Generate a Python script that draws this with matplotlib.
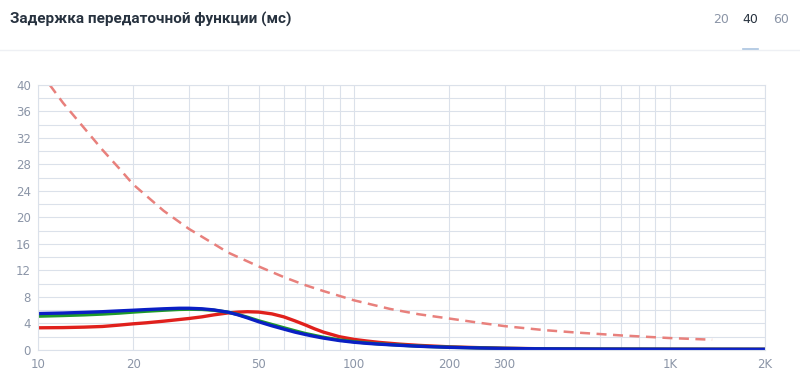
import matplotlib
matplotlib.use("Agg")
import matplotlib.pyplot as plt
from matplotlib.ticker import FixedLocator, NullFormatter

# частоты (Гц) и задержка (мс)
freq = [10, 12, 14, 16, 18, 20, 22, 25, 28, 30, 33, 36, 40, 43, 46, 50, 55,
        60, 65, 70, 75, 80, 90, 100, 110, 120, 140, 160, 200, 250, 300, 400,
        600, 1000, 2000]
blue = [5.5, 5.58, 5.68, 5.78, 5.9, 6.0, 6.1, 6.22, 6.3, 6.3, 6.22, 6.05,
        5.7, 5.3, 4.85, 4.25, 3.65, 3.15, 2.7, 2.35, 2.05, 1.8, 1.42, 1.17,
        1.0, 0.88, 0.7, 0.56, 0.4, 0.3, 0.23, 0.17, 0.13, 0.11, 0.1]
green = [5.1, 5.2, 5.3, 5.42, 5.56, 5.72, 5.85, 6.0, 6.12, 6.15, 6.12, 6.0,
         5.7, 5.35, 4.95, 4.4, 3.85, 3.35, 2.9, 2.5, 2.2, 1.92, 1.52, 1.25,
         1.06, 0.92, 0.73, 0.58, 0.42, 0.31, 0.24, 0.17, 0.13, 0.11, 0.1]
red = [3.35, 3.38, 3.45, 3.55, 3.75, 3.95, 4.1, 4.35, 4.6, 4.75, 5.0, 5.3,
       5.6, 5.72, 5.78, 5.72, 5.45, 5.0, 4.4, 3.8, 3.2, 2.7, 2.0, 1.6, 1.35,
       1.15, 0.88, 0.7, 0.48, 0.35, 0.26, 0.18, 0.13, 0.11, 0.1]

ref_freq = [10.9, 12, 14, 16, 18, 20, 25, 30, 40, 50, 60, 70, 80, 100, 130,
            160, 200, 250, 300, 400, 500, 700, 1000, 1360]
ref_delay = [40, 37.3, 33.5, 30.2, 27.5, 25, 21, 18.3, 14.7, 12.6, 11.0, 9.8,
             8.9, 7.5, 6.2, 5.4, 4.75, 4.1, 3.6, 3.0, 2.65, 2.2, 1.8, 1.55]

x_ticks = [10, 20, 50, 100, 200, 300, 1000, 2000]
x_labels = ["10", "20", "50", "100", "200", "300", "1K", "2K"]
minor_x = [m * d for d in (10, 100, 1000) for m in range(1, 10) if 10 <= m * d <= 2000] + [2000]
y_ticks = list(range(0, 41, 4))
periods = ["20", "40", "60"]

grid_c = "#dbe1ea"
label_c = "#8b95a7"

fig = plt.figure(figsize=(8, 3.82), dpi=100)
ax = fig.add_axes([0.0475, 0.0838, 0.9088, 0.6937])

ax.plot(ref_freq, ref_delay, color="#e8807c", lw=1.8, ls=(0, (4, 2.6)))
ax.plot(freq, red, color="#e0201c", lw=2.4, solid_capstyle="round", solid_joinstyle="round")
ax.plot(freq, green, color="#1f9a2a", lw=2.4, solid_capstyle="round", solid_joinstyle="round")
ax.plot(freq, blue, color="#0a1fc4", lw=2.4, solid_capstyle="round", solid_joinstyle="round")

ax.set_xscale("log")
ax.set_xlim(10, 2000)
ax.set_ylim(0, 40)
ax.xaxis.set_major_locator(FixedLocator(x_ticks))
ax.xaxis.set_minor_locator(FixedLocator(minor_x))
ax.xaxis.set_minor_formatter(NullFormatter())
ax.set_xticklabels(x_labels)
ax.set_yticks(y_ticks)
ax.set_yticks(range(0, 41, 2), minor=True)
ax.grid(which="both", color=grid_c, lw=0.8)
ax.set_axisbelow(True)
for s in ax.spines.values():
    s.set_color(grid_c)
    s.set_linewidth(0.8)
ax.tick_params(which="both", length=0, colors=label_c, labelsize=8.5)
ax.tick_params(axis="y", pad=5)
ax.tick_params(axis="x", pad=6)

fig.text(0.0125, 0.948, "Задержка передаточной функции (мс)", fontsize=11,
         fontweight="bold", color="#27323f", va="center", family="Roboto")
for i, p in enumerate(periods):
    fig.text(0.901 + i * 0.0375, 0.948, p, fontsize=9, va="center", ha="center",
             color="#27323f" if p == "40" else label_c)
fig.add_artist(plt.Line2D([0, 1], [0.868, 0.868], color="#eef0f4", lw=1))
fig.add_artist(plt.Line2D([0.929, 0.947], [0.872, 0.872], color="#aac4e0", lw=1.2))

fig.savefig("out.png", dpi=100)
